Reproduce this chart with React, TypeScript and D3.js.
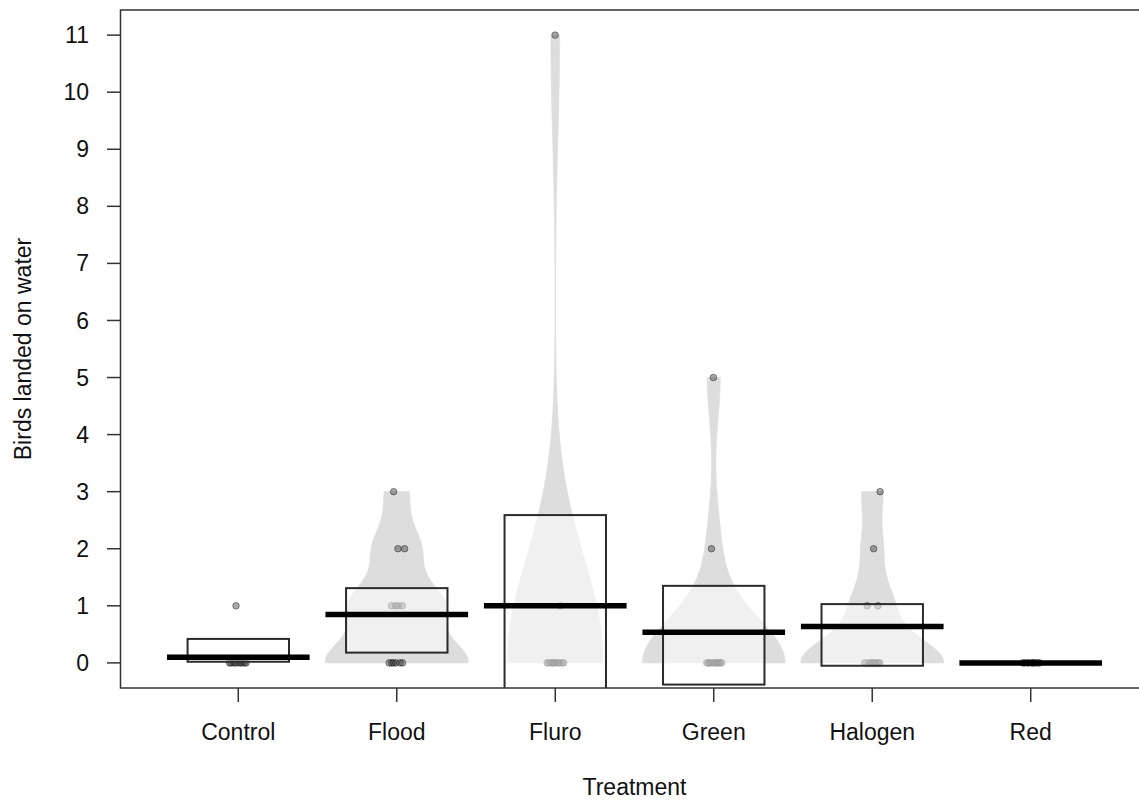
import React from 'react';
import * as d3 from 'd3';

const treatments = ['Control', 'Flood', 'Fluro', 'Green', 'Halogen', 'Red'];
const controlValues = [0, 0, 0, 0, 0, 0, 0, 0, 0, 1];
const floodValues = [0, 0, 0, 0, 0, 0, 1, 1, 1, 1, 2, 2, 3];
const fluroValues = [0, 0, 0, 0, 0, 0, 0, 0, 0, 0, 1, 11];
const greenValues = [0, 0, 0, 0, 0, 0, 0, 0, 0, 0, 0, 2, 5];
const halogenValues = [0, 0, 0, 0, 0, 0, 0, 1, 1, 2, 3];
const redValues = [0, 0, 0, 0, 0, 0, 0, 0, 0, 0];
const infLow = [0.02, 0.18, -0.6, -0.38, -0.05, 0];
const infHigh = [0.42, 1.31, 2.59, 1.35, 1.03, 0];
const beanShown = [false, true, true, true, true, false];
const yTicks = [0, 1, 2, 3, 4, 5, 6, 7, 8, 9, 10, 11];

const groupValues = [controlValues, floodValues, fluroValues, greenValues, halogenValues, redValues];

const W = 1139;
const H = 800;
const left = 121;
const right = 1148;
const top = 10;
const bottom = 688;
const beanWidthMax = [0.45, 0.45, 0.3, 0.45, 0.45, 0.45];

function bwNrd0(x: number[]) {
  const hi = d3.deviation(x) || 0;
  const s = [...x].sort((a, b) => a - b);
  const iqr = (d3.quantileSorted(s, 0.75) || 0) - (d3.quantileSorted(s, 0.25) || 0);
  let lo = Math.min(hi, iqr / 1.34);
  if (!lo) lo = hi || Math.abs(x[0]) || 1;
  return 0.9 * lo * Math.pow(x.length, -0.2);
}

function bean(values: number[], widthMax: number) {
  const bw = bwNrd0(values);
  const dens = (v: number) =>
    d3.sum(values, (d) => Math.exp(-((v - d) * (v - d)) / (2 * bw * bw)));
  const mn = d3.min(values)!;
  const mx = d3.max(values)!;
  const full = d3.range(512).map((i) => mn - 3 * bw + (i / 511) * (mx - mn + 6 * bw));
  const maxD = d3.max(full, dens)!;
  const n = 300;
  return d3.range(n + 1).map((i) => {
    const v = mn + (i / n) * (mx - mn);
    return { v, w: (dens(v) / maxD) * widthMax };
  });
}

export default function App() {
  const x = d3.scaleLinear().domain([0.26, 6.74]).range([left, right]);
  const y = d3.scaleLinear().domain([-0.44, 11.44]).range([bottom, top]);
  const font = "'Liberation Sans', Arial, sans-serif";
  const fs = 23;

  return (
    <svg
      width={W}
      height={H}
      style={{ position: 'absolute', left: 0, top: 0, background: '#fff' }}
      fontFamily={font}
    >
      <defs>
        <clipPath id="plotClip">
          <rect x={left} y={top} width={right - left} height={bottom - top} />
        </clipPath>
      </defs>
      <g clipPath="url(#plotClip)">
        {treatments.map((t, i) => {
          if (!beanShown[i]) return null;
          const c = i + 1;
          const pts = bean(groupValues[i], beanWidthMax[i]);
          const area = d3
            .area<{ v: number; w: number }>()
            .y((d) => y(d.v))
            .x0((d) => x(c - d.w))
            .x1((d) => x(c + d.w));
          return <path key={'b' + t} d={area(pts) || ''} fill="#dddddd" stroke="#dddddd" strokeWidth={0.8} />;
        })}
        {treatments.map((t, i) => {
          const c = i + 1;
          const counts: Record<number, number> = {};
          return (
            <g key={'p' + t}>
              {groupValues[i].map((v, j) => {
                const k = counts[v] || 0;
                counts[v] = k + 1;
                const jit = (((k * 0.618034 + v * 0.37 + i * 0.21) % 1) - 0.5) * 0.11;
                return (
                  <circle
                    key={j}
                    cx={x(c + jit)}
                    cy={y(v)}
                    r={3.3}
                    fill="rgba(50,50,50,0.42)"
                    stroke="rgba(20,20,20,0.45)"
                    strokeWidth={1}
                  />
                );
              })}
            </g>
          );
        })}
        {treatments.map((t, i) => {
          const c = i + 1;
          if (infHigh[i] - infLow[i] <= 0) return null;
          return (
            <rect
              key={'r' + t}
              x={x(c - 0.32)}
              y={y(infHigh[i])}
              width={x(c + 0.32) - x(c - 0.32)}
              height={y(infLow[i]) - y(infHigh[i])}
              fill="rgba(255,255,255,0.55)"
              stroke="#2b2b2b"
              strokeWidth={2}
            />
          );
        })}
        {treatments.map((t, i) => {
          const c = i + 1;
          const m = d3.mean(groupValues[i])!;
          return (
            <line
              key={'m' + t}
              x1={x(c - 0.45)}
              x2={x(c + 0.45)}
              y1={y(m)}
              y2={y(m)}
              stroke="#000"
              strokeWidth={5.5}
            />
          );
        })}
      </g>
      <rect
        x={left - 0.5}
        y={top}
        width={right - left + 10}
        height={bottom - top}
        fill="none"
        stroke="#333"
        strokeWidth={1.5}
      />
      {yTicks.map((t) => (
        <g key={'yt' + t}>
          <line x1={107} x2={left - 0.5} y1={y(t)} y2={y(t)} stroke="#333" strokeWidth={1.5} />
          <text x={89} y={y(t)} dy="0.35em" textAnchor="end" fontSize={fs} fill="#111">
            {t}
          </text>
        </g>
      ))}
      {treatments.map((t, i) => (
        <g key={'xt' + t}>
          <line x1={x(i + 1)} x2={x(i + 1)} y1={bottom} y2={702} stroke="#333" strokeWidth={1.5} />
          <text x={x(i + 1)} y={740} textAnchor="middle" fontSize={fs} fill="#111">
            {t}
          </text>
        </g>
      ))}
      <text x={(left + right) / 2} y={795} textAnchor="middle" fontSize={fs} fill="#111">
        Treatment
      </text>
      <text
        transform={`translate(31, ${(top + bottom) / 2}) rotate(-90)`}
        textAnchor="middle"
        fontSize={fs}
        fill="#111"
      >
        Birds landed on water
      </text>
    </svg>
  );
}
